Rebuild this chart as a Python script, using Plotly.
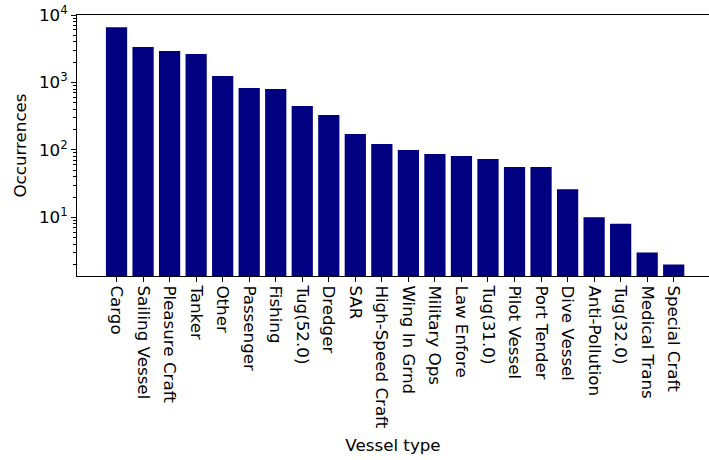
import plotly.graph_objects as go

# Vessel categories and their occurrence counts
vessel_types = [
    "Cargo", "Sailing Vessel", "Pleasure Craft", "Tanker", "Other", "Passenger",
    "Fishing", "Tug(52.0)", "Dredger", "SAR", "High-Speed Craft", "Wing In Grnd",
    "Military Ops", "Law Enfore", "Tug(31.0)", "Pilot Vessel", "Port Tender",
    "Dive Vessel", "Anti-Pollution", "Tug(32.0)", "Medical Trans", "Special Craft",
]
occurrences = [
    6600, 3350, 2920, 2640, 1245, 827, 800, 447, 329, 172, 122, 100,
    87, 81, 73, 56, 56, 26, 10, 8, 3, 2,
]

# Log-axis tick positions and labels
major_vals = [10, 100, 1000, 10000]
major_text = ["10<sup>1</sup>", "10<sup>2</sup>", "10<sup>3</sup>", "10<sup>4</sup>"]
minor_vals = [m * 10 ** e for e in range(0, 4) for m in range(2, 10)]

FONT = "DejaVu Sans"
FS = 16.7

fig = go.Figure(
    go.Bar(
        x=list(range(len(vessel_types))),
        y=occurrences,
        marker=dict(color="#000080", line=dict(width=0)),
        width=0.8,
    )
)

fig.update_layout(
    width=709,
    height=460,
    margin=dict(l=77, r=0, t=15, b=184),
    paper_bgcolor="white",
    plot_bgcolor="white",
    showlegend=False,
    font=dict(family=FONT, size=FS, color="black"),
)

fig.update_xaxes(
    range=[-1.49, 22.33],
    tickmode="array",
    tickvals=list(range(len(vessel_types))),
    ticktext=vessel_types,
    tickangle=90,
    ticks="outside",
    ticklen=5,
    tickwidth=1.1,
    tickcolor="black",
    showline=True,
    linecolor="black",
    linewidth=1.1,
    mirror=True,
    showgrid=False,
    zeroline=False,
    tickfont=dict(family=FONT, size=FS, color="black"),
    title=dict(text="Vessel type", font=dict(family=FONT, size=FS, color="black"), standoff=11),
)

fig.update_yaxes(
    type="log",
    range=[0.13, 4.0005],
    tickmode="array",
    tickvals=major_vals,
    ticktext=major_text,
    ticks="outside",
    ticklen=5,
    tickwidth=1.1,
    tickcolor="black",
    minor=dict(
        tickmode="array",
        tickvals=minor_vals,
        ticks="outside",
        ticklen=3,
        tickwidth=0.8,
        tickcolor="black",
        showgrid=False,
    ),
    showline=True,
    linecolor="black",
    linewidth=1.1,
    showgrid=False,
    zeroline=False,
    tickfont=dict(family=FONT, size=FS, color="black"),
    title=dict(text="Occurrences", font=dict(family=FONT, size=FS, color="black"), standoff=8),
)

fig.write_html("out.html")
